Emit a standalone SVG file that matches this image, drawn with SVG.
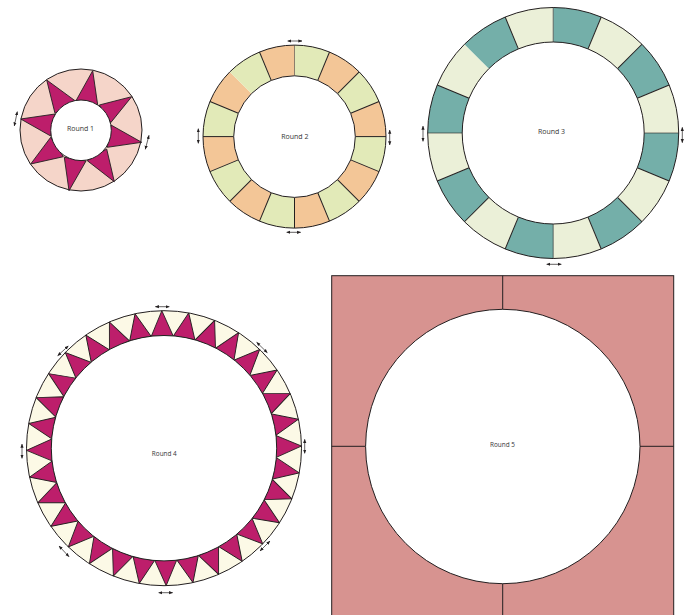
<svg xmlns="http://www.w3.org/2000/svg" xmlns:xlink="http://www.w3.org/1999/xlink" width="691" height="615" viewBox="0 0 691 615">
<style>
.ring{stroke:#231f20;stroke-width:1}
.hole{fill:#fff;stroke:#231f20;stroke-width:1}
.edge{stroke:#231f20;stroke-width:1;fill:none}
.mag{fill:#bd1e6b;stroke:#231f20;stroke-width:.9;stroke-linejoin:round}
.g2{fill:#e2eab8}.o2{fill:#f3c697}.t3{fill:#74afa9}.c3{fill:#ebf0d8}
.label{font-family:"Open Sans","Liberation Sans",sans-serif;font-size:6.4px;fill:#333;text-anchor:middle;opacity:.99}
.big{font-size:7px}
.grain{stroke:#231f20;stroke-width:.7;fill:none;marker-start:url(#head);marker-end:url(#head)}
</style>
<defs>
<marker id="head" viewBox="0 0 6 6" refX="5.5" refY="3" markerWidth="4" markerHeight="4" markerUnits="userSpaceOnUse" orient="auto-start-reverse"><path d="M0 .6L6 3L0 5.4Z" fill="#231f20"/></marker>
<path id="w2" d="M0 0L0-91.5A91.5 91.5 0 0 1 35.02-84.53Z"/>
<path id="w3" d="M0 0L0-125.5A125.5 125.5 0 0 1 48.03-115.95Z"/>
<path id="s2" d="M0-60.8L0-91.5" class="edge"/>
<path id="s3" d="M0-91L0-125.5" class="edge"/>
<polygon id="tri" class="mag" points="0,-137.5 10.9,-112.2 -10.9,-112.2"/>
</defs>

<g id="round-1">
<circle class="ring" cx="81" cy="130" r="61" fill="#f5d5c9"/>
<polygon class="mag" points="92.7,70.7 76,100.7 97.7,105"/>
<polygon class="mag" points="131.7,96.7 99.3,105 110.7,122.7"/>
<polygon class="mag" points="141.7,142.3 111,125 107.3,147.3"/>
<polygon class="mag" points="114.3,181.7 106.7,149 87.3,160.7"/>
<polygon class="mag" points="69,190.7 86,161 64.3,157.3"/>
<polygon class="mag" points="30.7,164 63.3,156.7 50.7,137.3"/>
<polygon class="mag" points="20.7,119 50.7,136 55,114"/>
<polygon class="mag" points="46.7,80 55,113.3 75,100.7"/>
<circle class="hole" cx="81" cy="130.3" r="30.3"/>
<text class="label big" x="80.5" y="131">Round 1</text>
</g>

<g id="round-2">
<g transform="translate(294.5 136.6)">
<use href="#w2" class="g2"/>
<use href="#w2" class="o2" transform="rotate(22.5)"/>
<use href="#w2" class="g2" transform="rotate(45)"/>
<use href="#w2" class="o2" transform="rotate(67.5)"/>
<use href="#w2" class="g2" transform="rotate(90)"/>
<use href="#w2" class="o2" transform="rotate(112.5)"/>
<use href="#w2" class="g2" transform="rotate(135)"/>
<use href="#w2" class="o2" transform="rotate(157.5)"/>
<use href="#w2" class="g2" transform="rotate(180)"/>
<use href="#w2" class="o2" transform="rotate(202.5)"/>
<use href="#w2" class="g2" transform="rotate(225)"/>
<use href="#w2" class="o2" transform="rotate(247.5)"/>
<use href="#w2" class="g2" transform="rotate(270)"/>
<use href="#w2" class="o2" transform="rotate(292.5)"/>
<use href="#w2" class="g2" transform="rotate(315)"/>
<use href="#w2" class="o2" transform="rotate(337.5)"/>
<use href="#s2" style="opacity:.5"/>
<use href="#s2" transform="rotate(22.5)"/>
<use href="#s2" transform="rotate(45)"/>
<use href="#s2" transform="rotate(67.5)"/>
<use href="#s2" transform="rotate(90)"/>
<use href="#s2" transform="rotate(112.5)"/>
<use href="#s2" transform="rotate(135)"/>
<use href="#s2" transform="rotate(157.5)"/>
<use href="#s2" transform="rotate(180)"/>
<use href="#s2" transform="rotate(202.5)"/>
<use href="#s2" transform="rotate(225)"/>
<use href="#s2" transform="rotate(247.5)"/>
<use href="#s2" transform="rotate(270)"/>
<use href="#s2" transform="rotate(292.5)"/>
<use href="#s2" transform="rotate(337.5)"/>
<circle class="edge" r="91.5"/>
<circle class="hole" r="60.8"/>
</g>
<text class="label big" x="294.8" y="139">Round 2</text>
</g>

<g id="round-3">
<g transform="translate(553.2 133)">
<use href="#w3" class="t3"/>
<use href="#w3" class="c3" transform="rotate(22.5)"/>
<use href="#w3" class="t3" transform="rotate(45)"/>
<use href="#w3" class="c3" transform="rotate(67.5)"/>
<use href="#w3" class="t3" transform="rotate(90)"/>
<use href="#w3" class="c3" transform="rotate(112.5)"/>
<use href="#w3" class="t3" transform="rotate(135)"/>
<use href="#w3" class="c3" transform="rotate(157.5)"/>
<use href="#w3" class="t3" transform="rotate(180)"/>
<use href="#w3" class="c3" transform="rotate(202.5)"/>
<use href="#w3" class="t3" transform="rotate(225)"/>
<use href="#w3" class="c3" transform="rotate(247.5)"/>
<use href="#w3" class="t3" transform="rotate(270)"/>
<use href="#w3" class="c3" transform="rotate(292.5)"/>
<use href="#w3" class="t3" transform="rotate(315)"/>
<use href="#w3" class="c3" transform="rotate(337.5)"/>
<use href="#s3" style="opacity:.6"/>
<use href="#s3" transform="rotate(22.5)"/>
<use href="#s3" transform="rotate(45)"/>
<use href="#s3" transform="rotate(67.5)"/>
<use href="#s3" transform="rotate(90)" style="opacity:.6"/>
<use href="#s3" transform="rotate(112.5)"/>
<use href="#s3" transform="rotate(135)"/>
<use href="#s3" transform="rotate(157.5)"/>
<use href="#s3" transform="rotate(180)" style="opacity:.6"/>
<use href="#s3" transform="rotate(202.5)"/>
<use href="#s3" transform="rotate(225)"/>
<use href="#s3" transform="rotate(247.5)"/>
<use href="#s3" transform="rotate(270)" style="opacity:.6"/>
<use href="#s3" transform="rotate(292.5)"/>
<use href="#s3" transform="rotate(337.5)"/>
<circle class="edge" r="125.5"/>
<circle class="hole" r="91"/>
</g>
<text class="label big" x="551.5" y="134">Round 3</text>
</g>

<g id="round-4">
<g transform="translate(164 448.2)">
<circle class="ring" r="137.5" fill="#fcf9e6"/>
<g transform="rotate(-0.9)">
<use href="#tri"/>
<use href="#tri" transform="rotate(11.25)"/>
<use href="#tri" transform="rotate(22.5)"/>
<use href="#tri" transform="rotate(33.75)"/>
<use href="#tri" transform="rotate(45)"/>
<use href="#tri" transform="rotate(56.25)"/>
<use href="#tri" transform="rotate(67.5)"/>
<use href="#tri" transform="rotate(78.75)"/>
<use href="#tri" transform="rotate(90)"/>
<use href="#tri" transform="rotate(101.25)"/>
<use href="#tri" transform="rotate(112.5)"/>
<use href="#tri" transform="rotate(123.75)"/>
<use href="#tri" transform="rotate(135)"/>
<use href="#tri" transform="rotate(146.25)"/>
<use href="#tri" transform="rotate(157.5)"/>
<use href="#tri" transform="rotate(168.75)"/>
<use href="#tri" transform="rotate(180)"/>
<use href="#tri" transform="rotate(191.25)"/>
<use href="#tri" transform="rotate(202.5)"/>
<use href="#tri" transform="rotate(213.75)"/>
<use href="#tri" transform="rotate(225)"/>
<use href="#tri" transform="rotate(236.25)"/>
<use href="#tri" transform="rotate(247.5)"/>
<use href="#tri" transform="rotate(258.75)"/>
<use href="#tri" transform="rotate(270)"/>
<use href="#tri" transform="rotate(281.25)"/>
<use href="#tri" transform="rotate(292.5)"/>
<use href="#tri" transform="rotate(303.75)"/>
<use href="#tri" transform="rotate(315)"/>
<use href="#tri" transform="rotate(326.25)"/>
<use href="#tri" transform="rotate(337.5)"/>
<use href="#tri" transform="rotate(348.75)"/>
</g>
<circle class="hole" r="112.7"/>
</g>
<text class="label" x="164.3" y="455.7">Round 4</text>
</g>

<g id="round-5">
<rect class="ring" x="331.7" y="275.7" width="342" height="345" fill="#d79390"/>
<path class="edge" d="M502.7 275.7V309M331.7 446.3H365.7M640 446.3H673.7M502.7 584V616"/>
<circle class="hole" cx="502.8" cy="446.5" r="137.2"/>
<text class="label" x="502.5" y="447">Round 5</text>
</g>

<g id="connectors">
<path class="grain" d="M17.3 111.7L14.3 126"/>
<path class="grain" d="M149 135.3L145.3 149.3"/>
<path class="grain" d="M287.7 41H302"/>
<path class="grain" d="M286.7 232.3H300.7"/>
<path class="grain" d="M198.3 128.7V143.3"/>
<path class="grain" d="M389.7 130V145"/>
<path class="grain" d="M423 126V141.3"/>
<path class="grain" d="M682.3 127.3V142.7"/>
<path class="grain" d="M546.7 264.3H561.3"/>
<path class="grain" d="M155.3 306.7H169.3"/>
<path class="grain" d="M57.7 355.7L68.3 346"/>
<path class="grain" d="M22 444V458.3"/>
<path class="grain" d="M256.7 342.3L267.3 352.7"/>
<path class="grain" d="M304.7 439.3V453.3"/>
<path class="grain" d="M260 551L270 541"/>
<path class="grain" d="M158.7 592.7H172.7"/>
<path class="grain" d="M59 546L69 556.7"/>
</g>
</svg>
